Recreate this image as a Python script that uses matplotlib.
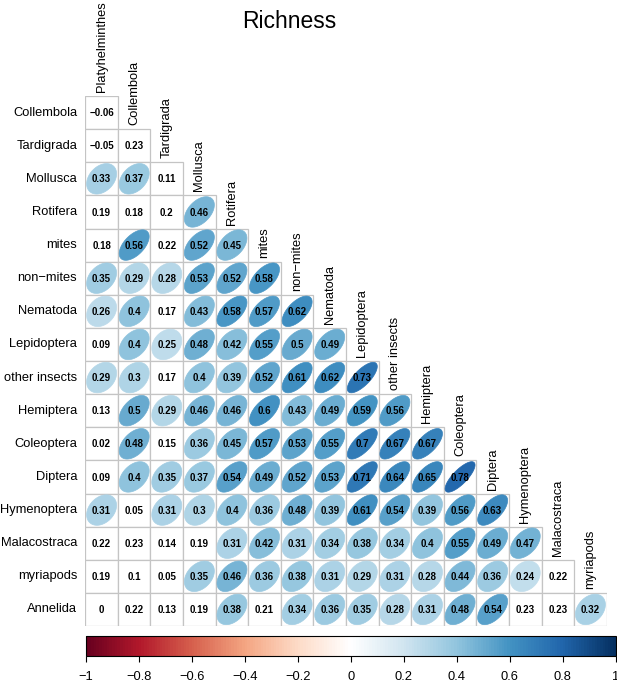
import numpy as np
import matplotlib
matplotlib.use("Agg")
import matplotlib.pyplot as plt
from matplotlib.patches import Rectangle, Polygon
from matplotlib.colors import LinearSegmentedColormap, Normalize
from matplotlib.cm import ScalarMappable

plt.rcParams['font.family'] = ['Liberation Sans', 'DejaVu Sans']

col_labels = ["Platyhelminthes", "Collembola", "Tardigrada", "Mollusca", "Rotifera",
              "mites", "non\u2212mites", "Nematoda", "Lepidoptera", "other insects",
              "Hemiptera", "Coleoptera", "Diptera", "Hymenoptera", "Malacostraca", "myriapods"]
row_labels = ["Collembola", "Tardigrada", "Mollusca", "Rotifera", "mites", "non\u2212mites",
              "Nematoda", "Lepidoptera", "other insects", "Hemiptera", "Coleoptera",
              "Diptera", "Hymenoptera", "Malacostraca", "myriapods", "Annelida"]

r_collembola = [-0.06]
r_tardigrada = [-0.05, 0.23]
r_mollusca = [0.33, 0.37, 0.11]
r_rotifera = [0.19, 0.18, 0.2, 0.46]
r_mites = [0.18, 0.56, 0.22, 0.52, 0.45]
r_nonmites = [0.35, 0.29, 0.28, 0.53, 0.52, 0.58]
r_nematoda = [0.26, 0.4, 0.17, 0.43, 0.58, 0.57, 0.62]
r_lepidoptera = [0.09, 0.4, 0.25, 0.48, 0.42, 0.55, 0.5, 0.49]
r_other = [0.29, 0.3, 0.17, 0.4, 0.39, 0.52, 0.61, 0.62, 0.73]
r_hemiptera = [0.13, 0.5, 0.29, 0.46, 0.46, 0.6, 0.43, 0.49, 0.59, 0.56]
r_coleoptera = [0.02, 0.48, 0.15, 0.36, 0.45, 0.57, 0.53, 0.55, 0.7, 0.67, 0.67]
r_diptera = [0.09, 0.4, 0.35, 0.37, 0.54, 0.49, 0.52, 0.53, 0.71, 0.64, 0.65, 0.78]
r_hymenoptera = [0.31, 0.05, 0.31, 0.3, 0.4, 0.36, 0.48, 0.39, 0.61, 0.54, 0.39, 0.56, 0.63]
r_malacostraca = [0.22, 0.23, 0.14, 0.19, 0.31, 0.42, 0.31, 0.34, 0.38, 0.34, 0.4, 0.55, 0.49, 0.47]
r_myriapods = [0.19, 0.1, 0.05, 0.35, 0.46, 0.36, 0.38, 0.31, 0.29, 0.31, 0.28, 0.44, 0.36, 0.24, 0.22]
r_annelida = [0, 0.22, 0.13, 0.19, 0.38, 0.21, 0.34, 0.36, 0.35, 0.28, 0.31, 0.48, 0.54, 0.23, 0.23, 0.32]

rows = [r_collembola, r_tardigrada, r_mollusca, r_rotifera, r_mites, r_nonmites,
        r_nematoda, r_lepidoptera, r_other, r_hemiptera, r_coleoptera, r_diptera,
        r_hymenoptera, r_malacostraca, r_myriapods, r_annelida]

sig_threshold = 0.24  # ellipse shown only for significant correlations

cb_ticks = [-1, -0.8, -0.6, -0.4, -0.2, 0, 0.2, 0.4, 0.6, 0.8, 1]

rdbu = ["#67001F", "#B2182B", "#D6604D", "#F4A582", "#FDDBC7", "#FFFFFF",
        "#D1E5F0", "#92C5DE", "#4393C3", "#2166AC", "#053061"]
cmap = LinearSegmentedColormap.from_list("corrRdBu", rdbu, N=200)
norm = Normalize(-1, 1)

W, H = 617, 685
fig = plt.figure(figsize=(W / 100, H / 100), dpi=100)

gl, gr, gt, gb = 85.3, 606.7, 96, 626
ax = fig.add_axes([gl / W, 1 - gb / H, (gr - gl) / W, (gb - gt) / H])
n = len(row_labels)
ax.set_xlim(0, n)
ax.set_ylim(n, 0)
ax.axis('off')

def fmt(v):
    s = f"{v:g}"
    return s.replace('-', '\u2212')

t = np.linspace(0, 2 * np.pi, 99)
scale = 0.92
for i, vals in enumerate(rows):
    for j, v in enumerate(vals):
        ax.add_patch(Rectangle((j, i), 1, 1, facecolor='white', edgecolor='#C4C4C4',
                               lw=0.9, zorder=1))
        if abs(v) >= sig_threshold:
            d = np.arccos(v)
            ex = np.cos(t + d / 2) / 2 * scale
            ey = np.cos(t - d / 2) / 2 * scale
            pts = np.column_stack([j + 0.5 + ex, i + 0.5 - ey])
            c = cmap(norm(v))
            ax.add_patch(Polygon(pts, closed=True, facecolor=c, edgecolor=c, lw=0.5, zorder=2))
        ax.text(j + 0.5, i + 0.52, fmt(v), ha='center', va='center', fontsize=7,
                fontweight='bold', color='black', zorder=3)

for i, lab in enumerate(row_labels):
    ax.text(-0.25, i + 0.5, lab, ha='right', va='center', fontsize=9.3, clip_on=False)

for j, lab in enumerate(col_labels):
    ax.text(j + 0.5, j - 0.12, lab, ha='center', va='bottom', rotation=90,
            fontsize=9.3, clip_on=False)

fig.text(289 / W, 1 - 22 / H, "Richness", ha='center', va='center', fontsize=16.5)

cax = fig.add_axes([85.6 / W, 1 - 656 / H, (615.8 - 85.6) / W, 20 / H])
cb = fig.colorbar(ScalarMappable(norm=norm, cmap=cmap), cax=cax, orientation='horizontal',
                  ticks=cb_ticks)
cb.ax.set_xticklabels([fmt(v) for v in cb_ticks])
cb.ax.tick_params(axis='x', direction='out', length=4, width=0.8, pad=7, labelsize=9.3)
cb.outline.set_linewidth(0.8)

fig.savefig("out.png", dpi=100)
